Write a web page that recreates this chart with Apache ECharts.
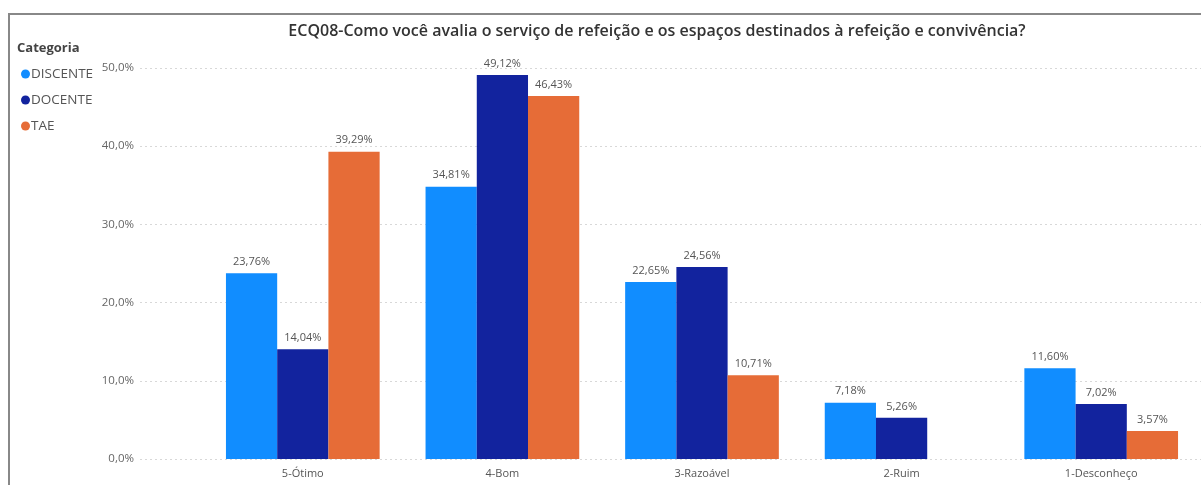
<!DOCTYPE html>
<html><head><meta charset="utf-8">
<script src="https://cdn.jsdelivr.net/npm/echarts@6/dist/echarts.min.js"></script>
<style>html,body{margin:0;padding:0;background:#fff}#c{width:1201px;height:485px}</style>
</head><body><div id="c"></div>
<script>
const categories = ['5-Ótimo', '4-Bom', '3-Razoável', '2-Ruim', '1-Desconheço'];
const seriesNames = ['DISCENTE', 'DOCENTE', 'TAE'];
const discente = [23.76, 34.81, 22.65, 7.18, 11.60];
const docente = [14.04, 49.12, 24.56, 5.26, 7.02];
const tae = [39.29, 46.43, 10.71, null, 3.57];
const yTicks = [0, 10, 20, 30, 40, 50];
const colors = ['#118DFF', '#12239E', '#E66C37'];
const titleText = 'ECQ08-Como você avalia o serviço de refeição e os espaços destinados à refeição e convivência?';

const fmtPct = v => v.toFixed(1).replace('.', ',') + '%';
const fmtLbl = v => v.toFixed(2).replace('.', ',') + '%';
const font = '"Open Sans", "Noto Sans", sans-serif';

const chart = echarts.init(document.getElementById('c'));
const mk = (name, data, i) => ({
  name, type: 'bar', data, xAxisIndex: 1, yAxisIndex: 1,
  barGap: '0%', barCategoryGap: '23%',
  itemStyle: { color: colors[i] },
  label: { show: true, position: 'top', distance: 6, color: '#555', fontSize: 11, fontFamily: font,
    formatter: p => p.value == null ? '' : fmtLbl(p.value) }
});
chart.setOption({
  animation: false,
  color: colors,
  title: { text: titleText, left: 652, textAlign: 'center', top: 18,
    textStyle: { fontSize: 16, fontWeight: 600, color: '#333', fontFamily: font } },
  graphic: [
    { type: 'line', shape: { x1: 8, y1: 14, x2: 1201, y2: 14 }, style: { stroke: '#888', lineWidth: 2 } },
    { type: 'line', shape: { x1: 9, y1: 14, x2: 9, y2: 485 }, style: { stroke: '#888', lineWidth: 2 } },
    { type: 'text', left: 17, top: 42, style: { text: 'Categoria', fontSize: 13, fontWeight: 'bold', fill: '#444', fontFamily: font } }
  ],
  legend: { orient: 'vertical', left: 16, top: 60, itemGap: 8, icon: 'circle', itemWidth: 9, itemHeight: 9,
    textStyle: { fontSize: 13.5, color: '#555', fontFamily: font, padding: [0, 0, 0, -4], lineHeight: 18 },
    data: seriesNames },
  grid: [
    { left: 140, right: 0, top: 68, bottom: 26 },
    { left: 203, right: -12, top: 68, bottom: 26 }
  ],
  xAxis: [
    { gridIndex: 0, type: 'value', show: false, min: 0, max: 1 },
    { gridIndex: 1, type: 'category', data: categories,
      axisLine: { show: false }, axisTick: { show: false },
      axisLabel: { color: '#555', fontSize: 11, fontFamily: font, margin: 9 } }
  ],
  yAxis: [
    { gridIndex: 0, type: 'value', min: 0, max: 50, interval: 10,
      axisLabel: { formatter: fmtPct, color: '#666', fontSize: 11.5, fontFamily: font, margin: 6 },
      axisLine: { show: false }, axisTick: { show: false },
      splitLine: { lineStyle: { type: [2, 3], color: '#d8d8d8' } } },
    { gridIndex: 1, type: 'value', min: 0, max: 50, interval: 10, show: false, splitLine: { show: false } }
  ],
  series: [mk(seriesNames[0], discente, 0), mk(seriesNames[1], docente, 1), mk(seriesNames[2], tae, 2)]
});
</script></body></html>
